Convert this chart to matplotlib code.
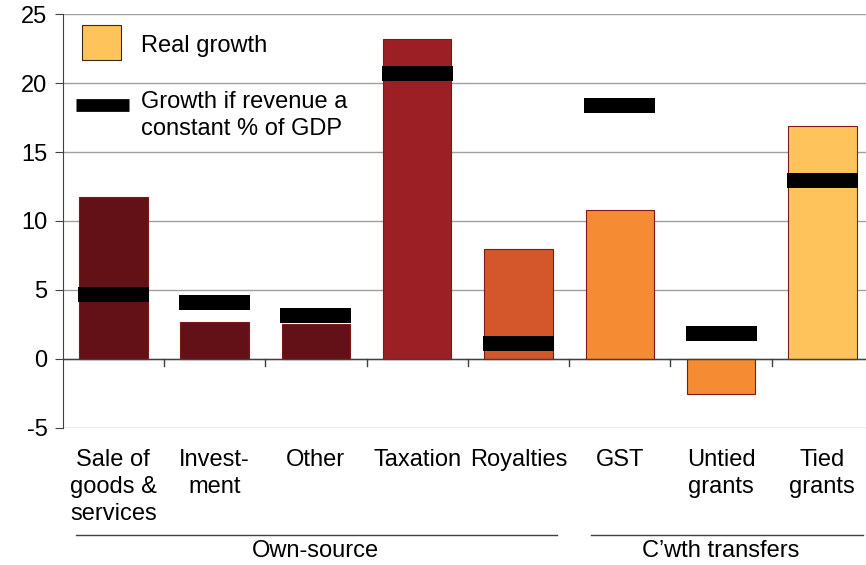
import numpy as np
import matplotlib.pyplot as plt
from matplotlib.patches import Rectangle
import matplotlib.transforms as mtransforms

plt.rcParams['font.family'] = ['Liberation Sans', 'DejaVu Sans']
plt.rcParams['axes.unicode_minus'] = False

# donnees
categories = ['Sale of\ngoods &\nservices', 'Invest-\nment', 'Other', 'Taxation',
              'Royalties', 'GST', 'Untied\ngrants', 'Tied\ngrants']
real_growth = [11.75, 2.65, 2.5, 23.2, 8.0, 10.8, -2.55, 16.85]
gdp_growth = [4.7, 4.1, 3.15, 20.7, 1.15, 18.35, 1.85, 12.95]
bar_colors = ['#631016', '#631016', '#631016', '#9C1F25',
              '#D4572B', '#F58B33', '#F58B33', '#FEC35B']
groups = ['Own-source', 'C\u2019wth transfers']

fig = plt.figure(figsize=(8.66, 5.65), dpi=100)
ax = fig.add_axes([0.0724, 0.2425, 0.9357, 0.7327])

x = np.arange(len(categories))

ax.bar(x, real_growth, width=0.675, color=bar_colors, edgecolor='#7a1a1a',
       linewidth=0.8, zorder=3)
# trait noir = croissance si revenu a % constant du PIB
mark_h = 1.1
ax.bar(x, [mark_h] * len(x), bottom=np.array(gdp_growth) - mark_h / 2,
       width=0.70, color='black', linewidth=0, zorder=4)

ax.set_xlim(-0.5, len(x) - 0.5)
ax.set_ylim(-5, 25)
ax.set_yticks(np.arange(-5, 26, 5))
ax.yaxis.grid(True, color='#a0a0a0', linewidth=1.0, zorder=0)
ax.set_axisbelow(True)

for s in ['top', 'right', 'bottom']:
    ax.spines[s].set_visible(False)
ax.spines['left'].set_color('#404040')
ax.axhline(0, color='#404040', linewidth=1.0, zorder=5)

ax.tick_params(axis='y', labelsize=17, length=6, color='#404040', pad=5)
ax.set_xticks([])

# petits traits entre categories sous la ligne zero
for b in np.arange(0.5, len(x) - 0.5, 1):
    ax.plot([b, b], [0, -0.5], color='#404040', linewidth=1.0, zorder=5)

trans = mtransforms.blended_transform_factory(ax.transData, fig.transFigure)
for i, lab in enumerate(categories):
    ax.text(x[i], 1 - 449 / 565, lab, transform=trans, ha='center', va='top',
            fontsize=17, linespacing=1.28)

# groupes
ax.plot([-0.37, 4.38], [1 - 535 / 565] * 2, transform=trans, color='#404040',
        linewidth=1.0, clip_on=False)
ax.plot([4.72, 7.4], [1 - 535 / 565] * 2, transform=trans, color='#404040',
        linewidth=1.0, clip_on=False)
ax.text(2.0, 1 - 551 / 565, groups[0], transform=trans, ha='center', va='center',
        fontsize=17)
ax.text(6.0, 1 - 551 / 565, groups[1], transform=trans, ha='center', va='center',
        fontsize=17)

# legende
ax.add_patch(Rectangle((0.0238, 0.889), 0.048, 0.084, transform=ax.transAxes,
                       facecolor='#FEC35B', edgecolor='#3a2a10', linewidth=0.8,
                       zorder=6))
ax.text(0.0966, 0.923, 'Real growth', transform=ax.transAxes, ha='left',
        va='center', fontsize=17, zorder=6)
ax.plot([0.0164, 0.0818], [0.780, 0.780], transform=ax.transAxes, color='black',
        linewidth=9.2, solid_capstyle='butt', zorder=6)
ax.text(0.0966, 0.755, 'Growth if revenue a\nconstant % of GDP',
        transform=ax.transAxes, ha='left', va='center', fontsize=17,
        linespacing=1.3, zorder=6)

fig.savefig('out.png', dpi=100)
